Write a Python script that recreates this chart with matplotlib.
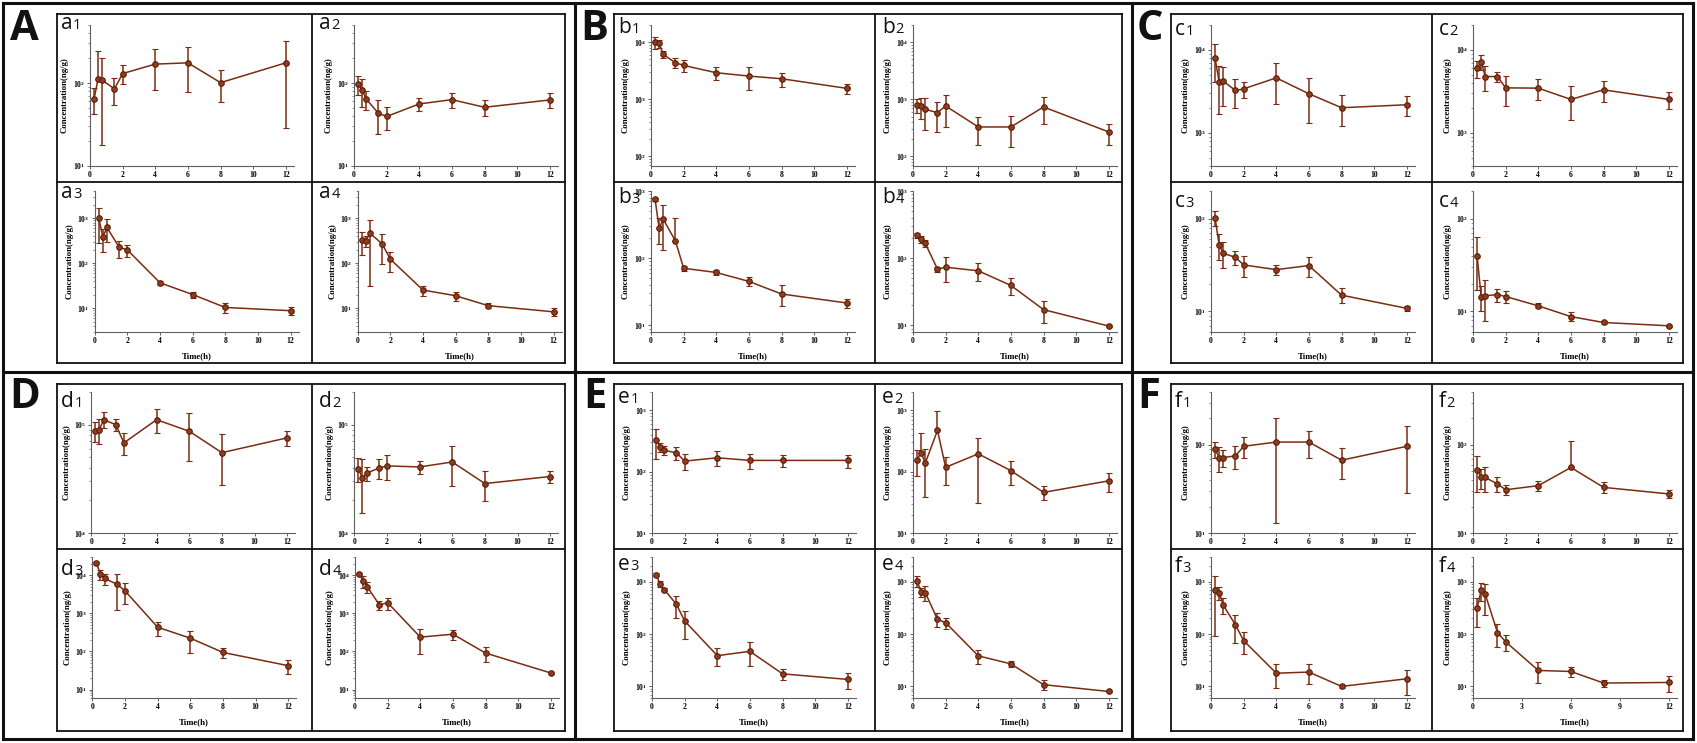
import matplotlib
matplotlib.use('Agg')
import matplotlib.pyplot as plt
import numpy as np
from matplotlib.lines import Line2D
from matplotlib.ticker import LogLocator, LogFormatterSciNotation, NullFormatter

W, H = 1697, 743

# sampling times (h)
time_h = [0.25, 0.5, 0.75, 1.5, 2, 4, 6, 8, 12]

# mean and SD (ng/g)
a1_mean = [64.6, 113, 108, 85, 130, 169, 175, 101, 175]
a1_sd = [22, 132, 90, 31, 34, 87, 98, 42, 146]
a2_mean = [97, 82, 64, 43, 39.5, 56, 63, 51, 62.5]
a2_sd = [25, 30, 17, 19, 12, 10, 13, 11, 13]
a3_mean = [1000, 380, 623, 226, 198, 37, 20.3, 10.5, 8.9]
a3_sd = [714, 200, 327, 92, 57, 3.5, 3, 2.4, 1.6]
a4_mean = [330, 319, 464, 269, 123, 25.5, 19.1, 11.5, 8.4]
a4_sd = [176, 86, 433, 172, 59, 6.4, 4.3, 1.4, 1.6]

b1_mean = [10000, 9500, 6094, 4365, 3920, 2919, 2553, 2291, 1555]
b1_sd = [2400, 1500, 900, 830, 870, 750, 1110, 630, 320]
b2_mean = [785, 765, 668, 584, 765, 328, 328, 735, 268]
b2_sd = [215, 305, 373, 314, 442, 169, 183, 362, 107]
b3_mean = [753, 277, 381, 180, 71, 61.4, 45.2, 29.4, 21.6]
b3_sd = [45, 113, 247, 210, 6, 6, 7, 10, 3.5]
b4_mean = [221, 191, 167, 68.7, 73.6, 65, 39.4, 17.2, 9.8]
b4_sd = [19, 23, 20, 6, 30, 19, 11, 6.2, 0.4]

c1_mean = [7943, 4093, 4207, 3251, 3404, 4613, 2965, 2014, 2188]
c1_sd = [3860, 2390, 2100, 1236, 765, 2370, 1650, 817, 593]
c2_mean = [6026, 7244, 4786, 4786, 3499, 3467, 2535, 3311, 2535]
c2_sd = [1420, 1550, 1580, 700, 1376, 980, 1100, 975, 570]
c3_mean = [102.5, 52.2, 42.5, 38.4, 31.8, 28.3, 31.3, 15, 10.8]
c3_sd = [19, 16.6, 13.3, 7, 8.2, 3.5, 7.8, 2.8, 0.6]
c4_mean = [40.1, 14.5, 14.8, 15.2, 14.5, 11.5, 8.8, 7.6, 7.0]
c4_sd = [23, 4.5, 7, 2.5, 2.3, 0.7, 1, 0.3, 0.2]

d1_mean = [86900, 89900, 111000, 100000, 67900, 111000, 86900, 55100, 75500]
d1_sd = [18000, 23600, 18600, 13500, 15000, 28000, 41000, 27100, 12600]
d2_mean = [39300, 31900, 35700, 39600, 41600, 40700, 45200, 28600, 33200]
d2_sd = [9600, 16600, 5300, 8300, 10500, 5500, 17800, 8800, 4200]
d3_mean = [21000, 10600, 8190, 5830, 3900, 432, 223, 94.2, 42.3]
d3_sd = [800, 2900, 2800, 4600, 2160, 174, 130, 28, 16]
d4_mean = [11050, 7110, 4960, 1650, 1900, 237, 283, 90.5, 27.2]
d4_sd = [700, 2500, 1480, 450, 660, 153, 84, 39, 2]

e1_mean = [333, 253, 223, 204, 149, 169, 153, 153, 153]
e1_sd = [170, 40, 36, 49, 43, 46, 44, 32, 36]
e2_mean = [157, 204, 138, 472, 118, 196, 104, 46, 71]
e2_sd = [72, 229, 99, 500, 58, 165, 43, 11.7, 25]
e3_mean = [1378, 916, 715, 371, 179, 38.8, 46.9, 17.4, 13.6]
e3_sd = [100, 110, 55, 164, 98, 14.7, 22.6, 4.3, 4.6]
e4_mean = [1045, 645, 627, 192, 166, 38.4, 27, 10.8, 8.0]
e4_sd = [237, 135, 200, 57, 40, 11.5, 3, 2.2, 0.3]

f1_mean = [89.4, 72, 72, 75.2, 96.6, 108, 108, 67.2, 96.6]
f1_sd = [19, 23, 16, 22, 26, 95, 36, 26, 68]
f2_mean = [52.2, 42.8, 42.8, 36, 31, 34.5, 55.5, 33, 27.8]
f2_sd = [23, 11, 13.7, 6.8, 4, 4.8, 56, 4.6, 3]
f3_mean = [693, 627, 360, 150, 75.2, 17.9, 18.8, 10, 14]
f3_sd = [600, 176, 122, 82, 33, 8.7, 7.8, 0.8, 7]
f4_mean = [311, 693, 582, 107.6, 71.5, 20.2, 19.3, 11.6, 11.9]
f4_sd = [171, 264, 348, 52, 24, 8.8, 4.1, 1.8, 4]

xticks_std = [0, 2, 4, 6, 8, 10, 12]
xticks_f4 = [0, 3, 6, 9, 12]

# (name, group, row, col, mean, sd, ylim, xticks)
panels = [
    ('a1', 'A', 0, 0, a1_mean, a1_sd, (10, 500), xticks_std),
    ('a2', 'A', 0, 1, a2_mean, a2_sd, (10, 500), xticks_std),
    ('a3', 'A', 1, 0, a3_mean, a3_sd, (3, 4000), xticks_std),
    ('a4', 'A', 1, 1, a4_mean, a4_sd, (3, 4000), xticks_std),
    ('b1', 'B', 0, 0, b1_mean, b1_sd, (68, 20000), xticks_std),
    ('b2', 'B', 0, 1, b2_mean, b2_sd, (68, 20000), xticks_std),
    ('b3', 'B', 1, 0, b3_mean, b3_sd, (8, 1000), xticks_std),
    ('b4', 'B', 1, 1, b4_mean, b4_sd, (8, 1000), xticks_std),
    ('c1', 'C', 0, 0, c1_mean, c1_sd, (400, 20000), xticks_std),
    ('c2', 'C', 0, 1, c2_mean, c2_sd, (400, 20000), xticks_std),
    ('c3', 'C', 1, 0, c3_mean, c3_sd, (6, 200), xticks_std),
    ('c4', 'C', 1, 1, c4_mean, c4_sd, (6, 200), xticks_std),
    ('d1', 'D', 0, 0, d1_mean, d1_sd, (1e4, 2e5), xticks_std),
    ('d2', 'D', 0, 1, d2_mean, d2_sd, (1e4, 2e5), xticks_std),
    ('d3', 'D', 1, 0, d3_mean, d3_sd, (6, 3e4), xticks_std),
    ('d4', 'D', 1, 1, d4_mean, d4_sd, (6, 3e4), xticks_std),
    ('e1', 'E', 0, 0, e1_mean, e1_sd, (10, 2000), xticks_std),
    ('e2', 'E', 0, 1, e2_mean, e2_sd, (10, 2000), xticks_std),
    ('e3', 'E', 1, 0, e3_mean, e3_sd, (6, 3000), xticks_std),
    ('e4', 'E', 1, 1, e4_mean, e4_sd, (6, 3000), xticks_std),
    ('f1', 'F', 0, 0, f1_mean, f1_sd, (10, 400), xticks_std),
    ('f2', 'F', 0, 1, f2_mean, f2_sd, (10, 400), xticks_std),
    ('f3', 'F', 1, 0, f3_mean, f3_sd, (6, 3000), xticks_std),
    ('f4', 'F', 1, 1, f4_mean, f4_sd, (6, 3000), xticks_f4),
]

# layout in pixels
group_box = {  # left, top, right, bottom, mid x, mid y
    'A': (57, 14, 565, 363, 312, 182),
    'B': (614, 14, 1122, 363, 875, 182),
    'C': (1171, 14, 1683, 363, 1432, 182),
    'D': (57, 384, 565, 731, 312, 549),
    'E': (614, 384, 1122, 731, 875, 549),
    'F': (1171, 384, 1683, 731, 1432, 549),
}
group_letter = {'A': (10, 40), 'B': (580, 40), 'C': (1137, 40),
                'D': (9, 408), 'E': (583, 408), 'F': (1137, 408)}
axes_left = {
    ('A', 0): (90, 354), ('A', 1): (94.7, 357.7),
    ('B', 0): (651, 913), ('B', 1): (651, 913),
    ('C', 0): (1211, 1473), ('C', 1): (1211, 1473),
    ('D', 0): (91.3, 354.3), ('D', 1): (92.3, 355),
    ('E', 0): (652, 913), ('E', 1): (652, 913),
    ('F', 0): (1211, 1473), ('F', 1): (1211, 1473),
}
row_span = {0: [(25, 166), (191, 332)], 1: [(392, 533), (557, 698)]}
label_base = {'A': (15, 16), 'B': (19, 21), 'C': (21, 25),
              'D': (23, 26), 'E': (19, 21), 'F': (23, 23)}
AX_W = 204

line_c = '#7a2c12'
face_c = '#8e3d1e'
edge_c = '#5c1f0a'
spine_c = '#606060'

plt.rcParams['font.family'] = 'Liberation Serif'
plt.rcParams['font.weight'] = 'bold'

fig = plt.figure(figsize=(W / 100, H / 100), dpi=100)
fig.patch.set_facecolor('white')


def fx(x):
    return x / W


def fy(y):
    return 1 - y / H


def hline(x0, x1, y, lw):
    fig.add_artist(Line2D([fx(x0), fx(x1)], [fy(y), fy(y)], transform=fig.transFigure,
                          color='#111111', lw=lw, solid_capstyle='projecting'))


def vline(x, y0, y1, lw):
    fig.add_artist(Line2D([fx(x), fx(x)], [fy(y0), fy(y1)], transform=fig.transFigure,
                          color='#111111', lw=lw, solid_capstyle='projecting'))


# outer frame and group dividers
hline(3, 1693, 3, 2.2)
hline(3, 1693, 739, 2.2)
vline(3, 3, 739, 2.2)
vline(1693, 3, 739, 2.2)
hline(3, 1693, 372, 2.2)
vline(575, 3, 739, 2.2)
vline(1132, 3, 739, 2.2)

for g, (l, t, r, b, mx, my) in group_box.items():
    hline(l, r, t, 1.3)
    hline(l, r, b, 1.3)
    vline(l, t, b, 1.3)
    vline(r, t, b, 1.3)
    vline(mx, t, b, 1.3)
    hline(l, r, my, 1.3)
    lx, ly = group_letter[g]
    fig.text(fx(lx), fy(ly), g, fontsize=30, family='Open Sans', fontweight='bold',
             va='baseline', ha='left', color='#111111')

renderer = fig.canvas.get_renderer()

for name, g, row, col, mean, sd, ylim, xt in panels:
    grow = 0 if g in 'ABC' else 1
    top, bot = row_span[grow][row]
    left = axes_left[(g, row)][col]
    ax = fig.add_axes([fx(left), fy(bot), AX_W / W, (bot - top) / H])
    mean = np.array(mean, dtype=float)
    sd = np.array(sd, dtype=float)
    lower = np.where(mean - sd > 0, sd, 0.0)
    ax.errorbar(time_h, mean, yerr=[lower, sd], fmt='-o', color=line_c, lw=1.1,
                ms=4, mfc=face_c, mec=edge_c, mew=0.8, elinewidth=1.1,
                ecolor=line_c, capsize=2, capthick=1.1, zorder=3)
    ax.set_yscale('log')
    ax.set_ylim(*ylim)
    ax.set_xlim(0, 12.5)
    ax.set_xticks(xt)
    ax.yaxis.set_major_locator(LogLocator(base=10, numticks=12))
    ax.yaxis.set_major_formatter(LogFormatterSciNotation())
    ax.yaxis.set_minor_locator(LogLocator(base=10, subs=np.arange(2, 10), numticks=12))
    ax.yaxis.set_minor_formatter(NullFormatter())
    for s in ('top', 'right'):
        ax.spines[s].set_visible(False)
    for s in ('left', 'bottom'):
        ax.spines[s].set_color(spine_c)
        ax.spines[s].set_linewidth(0.8)
    ax.tick_params(axis='both', which='major', direction='out', length=2.2, width=0.7,
                   color=spine_c, labelsize=5.5, pad=1.5)
    ax.tick_params(axis='y', which='minor', direction='out', length=1.2, width=0.5,
                   color=spine_c)
    ax.set_facecolor('none')
    ax.set_ylabel('Concentration(ng/g)', fontsize=6.3, fontweight='bold')
    ax.yaxis.set_label_coords(-21 / AX_W, 0.5)
    if row == 1:
        ax.set_xlabel('Time(h)', fontsize=6.3, fontweight='bold')
        ax.xaxis.set_label_coords(0.5, -20 / (bot - top))

    # panel label such as a1: letter plus a smaller digit
    bl, bt, br, bb, mx, my = group_box[g]
    cx = bl if col == 0 else mx
    cy = bt if row == 0 else my
    base = cy + label_base[g][row]
    lt = fig.text(fx(cx + (4 if col == 0 else 7)), fy(base), name[0], fontsize=15,
                  family='Open Sans', fontweight='normal', va='baseline', ha='left',
                  color='#111111')
    ext = lt.get_window_extent(renderer)
    fig.text((ext.x1 + 0.5) / W, fy(base), name[1], fontsize=10.5,
             family='Open Sans', fontweight='normal', va='baseline', ha='left',
             color='#111111')

fig.savefig('out.png', dpi=100)
